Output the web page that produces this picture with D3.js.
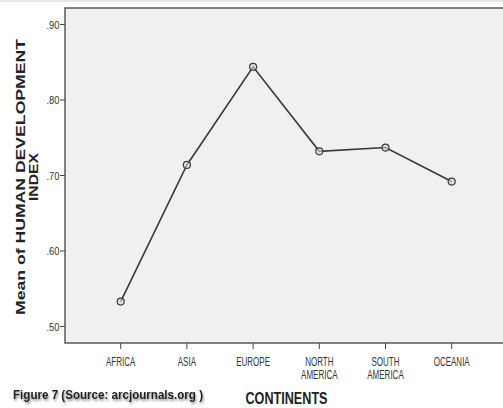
<!DOCTYPE html>
<html>
<head>
<meta charset="utf-8">
<script src="https://cdn.jsdelivr.net/npm/d3@7"></script>
<style>
  body { margin: 0; background: #fff; }
  svg { display: block; }
  .tick-x text, .tick-y text { font-family: "Liberation Sans", Arial, sans-serif; fill: #333; }
</style>
</head>
<body>
<svg id="chart" width="503" height="408"></svg>
<script>
// data
var continents = ["AFRICA", "ASIA", "EUROPE", "NORTH AMERICA", "SOUTH AMERICA", "OCEANIA"];
var meanHDI = [0.533, 0.714, 0.844, 0.732, 0.737, 0.692];
var yTicks = [0.50, 0.60, 0.70, 0.80, 0.90];

var svg = d3.select("#chart"),
    width = +svg.attr("width"),
    height = +svg.attr("height");

// plot frame (window.top is reserved, hence the names)
var frameL = 65, frameT = 8, frameR = 508, frameB = 343;

var x = d3.scalePoint().domain(continents).range([120.7, 451.7]);
var y = d3.scaleLinear().domain([0.5, 0.9]).range([326.5, 24.5]);

// thin lavender strip at the very top
svg.append("rect").attr("x", 0).attr("y", 0).attr("width", width).attr("height", 2)
    .attr("fill", "#e6e6f2");

svg.append("rect")
    .attr("x", frameL).attr("y", frameT)
    .attr("width", frameR - frameL).attr("height", frameB - frameT)
    .attr("fill", "#f0f0f0")
    .attr("stroke", "#5a5a5a")
    .attr("stroke-width", 1.5);

// y axis ticks
var fmt = function (v) { return d3.format(".2f")(v).replace(/^0/, ""); };
var yt = svg.append("g").attr("class", "tick-y");
yt.selectAll("line").data(yTicks).enter().append("line")
    .attr("x1", frameL - 5).attr("x2", frameL)
    .attr("y1", function (d) { return y(d); })
    .attr("y2", function (d) { return y(d); })
    .attr("stroke", "#444").attr("stroke-width", 1);
yt.selectAll("text").data(yTicks).enter().append("text")
    .attr("x", frameL - 5.5)
    .attr("y", function (d) { return y(d) + 4; })
    .attr("text-anchor", "end")
    .attr("font-size", 11.5)
    .attr("textLength", 13)
    .attr("lengthAdjust", "spacingAndGlyphs")
    .text(fmt);

// x axis ticks
var xt = svg.append("g").attr("class", "tick-x");
xt.selectAll("line").data(continents).enter().append("line")
    .attr("x1", function (d) { return x(d); })
    .attr("x2", function (d) { return x(d); })
    .attr("y1", frameB).attr("y2", frameB + 6)
    .attr("stroke", "#444").attr("stroke-width", 1);

xt.selectAll("text").data(continents).enter().append("text")
    .attr("text-anchor", "middle")
    .attr("font-size", 12.5)
    .each(function (d) {
        var words = d.split(" ");
        var t = d3.select(this);
        words.forEach(function (w, i) {
            var ts = t.append("tspan")
                .attr("x", x(d))
                .attr("y", 366 + i * 12.5)
                .text(w);
            ts.attr("textLength", ts.node().getComputedTextLength() * 0.64)
              .attr("lengthAdjust", "spacingAndGlyphs");
        });
    });

// line + markers
var pts = continents.map(function (c, i) { return [c, meanHDI[i]]; });
var line = d3.line()
    .x(function (d) { return x(d[0]); })
    .y(function (d) { return y(d[1]); });

svg.append("path")
    .datum(pts)
    .attr("d", line)
    .attr("fill", "none")
    .attr("stroke", "#3a3a3a")
    .attr("stroke-width", 1.6);

svg.selectAll(".pt")
    .data(pts)
    .enter().append("circle")
    .attr("class", "pt")
    .attr("cx", function (d) { return x(d[0]); })
    .attr("cy", function (d) { return y(d[1]); })
    .attr("r", 3.5)
    .attr("fill", "#d8d8d8")
    .attr("fill-opacity", 0.6)
    .attr("stroke", "#3a3a3a")
    .attr("stroke-width", 1.2);

// y axis title, two lines
var yTitle = svg.append("text")
    .attr("transform", "translate(25,177) rotate(-90)")
    .attr("text-anchor", "middle")
    .attr("font-family", "Liberation Sans, Arial, sans-serif")
    .attr("font-weight", "bold")
    .attr("font-size", 13.5)
    .attr("fill", "#222");
yTitle.append("tspan").attr("x", 0).attr("y", 0)
    .attr("textLength", 276).attr("lengthAdjust", "spacingAndGlyphs")
    .text("Mean of HUMAN DEVELOPMENT");
yTitle.append("tspan").attr("x", 0).attr("y", 13)
    .attr("textLength", 48).attr("lengthAdjust", "spacingAndGlyphs")
    .text("INDEX");

// x axis title
svg.append("text")
    .attr("x", (frameL + frameR) / 2)
    .attr("y", 404)
    .attr("text-anchor", "middle")
    .attr("font-family", "Liberation Sans, Arial, sans-serif")
    .attr("font-weight", "bold")
    .attr("font-size", 16.5)
    .attr("fill", "#222")
    .attr("textLength", 82)
    .attr("lengthAdjust", "spacingAndGlyphs")
    .text("CONTINENTS");

// caption with soft shadow
var defs = svg.append("defs");
var f = defs.append("filter").attr("id", "shadow").attr("x", "-5%").attr("y", "-30%")
    .attr("width", "110%").attr("height", "180%");
f.append("feDropShadow").attr("dx", 1).attr("dy", 2).attr("stdDeviation", 1.2)
    .attr("flood-color", "#000").attr("flood-opacity", 0.45);

svg.append("text")
    .attr("x", 13)
    .attr("y", 399)
    .attr("font-family", "Liberation Sans, Arial, sans-serif")
    .attr("font-weight", "bold")
    .attr("font-size", 12)
    .attr("fill", "#222")
    .attr("filter", "url(#shadow)")
    .attr("textLength", 190)
    .attr("lengthAdjust", "spacingAndGlyphs")
    .text("Figure 7 (Source: arcjournals.org )");
</script>
</body>
</html>
